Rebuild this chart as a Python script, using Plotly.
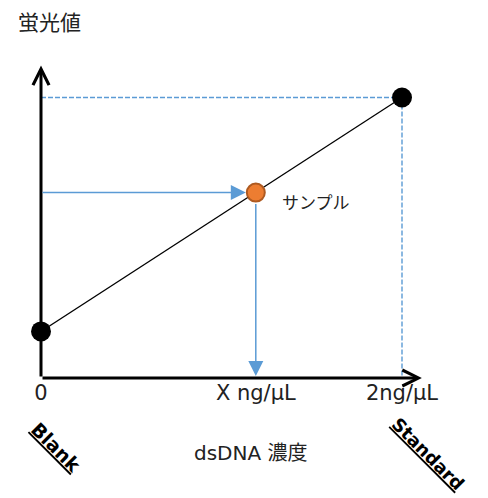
import plotly.graph_objects as go

# ---- data ----
conc_labels = ["0", "X ng/μL", "2ng/μL"]
conc_values = [0.0, 1.19, 2.0]          # ng/μL : blank, sample, standard
fluor_values = [0.166, 0.661, 1.0]      # relative fluorescence
point_names = ["Blank", "サンプル", "Standard"]

x_axis_end = 2.11
y_axis_end = 1.114

FONT = "DejaVu Sans, Noto Sans CJK JP, sans-serif"
BLUE = "#5B9BD5"
ORANGE = "#ED7D31"
ORANGE_EDGE = "#AE5A21"

OFF = 8                      # page body offset
W, H = 488 - OFF, 498 - OFF
L, R, T, B = 41 - OFF, 0, 0, 120
PLOT_W, PLOT_H = W - L - R, H - T - B


def px(xp):
    return (xp - OFF - L) / PLOT_W


def py(yp):
    return (H - B - (yp - OFF)) / PLOT_H


fig = go.Figure()

# calibration line blank -> standard
fig.add_trace(go.Scatter(
    x=[conc_values[0], conc_values[2]], y=[fluor_values[0], fluor_values[2]],
    mode="lines", line=dict(color="black", width=1.3),
    hoverinfo="skip", showlegend=False, cliponaxis=False))

# blank & standard points
fig.add_trace(go.Scatter(
    x=[conc_values[0], conc_values[2]], y=[fluor_values[0], fluor_values[2]],
    mode="markers", marker=dict(color="black", size=20),
    showlegend=False, cliponaxis=False))

shapes = [
    dict(type="line", xref="x", yref="y", x0=0, y0=fluor_values[2],
         x1=conc_values[2], y1=fluor_values[2], layer="below",
         line=dict(color=BLUE, width=1.4, dash="5px,2px")),
    dict(type="line", xref="x", yref="y", x0=conc_values[2], y0=fluor_values[2],
         x1=conc_values[2], y1=0, layer="below",
         line=dict(color=BLUE, width=1.4, dash="5px,2px")),
]


def label(x, y, text, size, angle=0, xanchor="center", color="#222"):
    return dict(x=px(x), y=py(y), xref="paper", yref="paper", text=text,
                showarrow=False, xanchor=xanchor, yanchor="middle",
                textangle=angle, font=dict(size=size, color=color))


annotations = [
    # axes arrows
    dict(x=0, y=y_axis_end, ax=0, ay=0, xref="x", yref="y", axref="x", ayref="y",
         text="", showarrow=True, arrowhead=5, arrowsize=1.05, arrowwidth=3,
         arrowcolor="black"),
    dict(x=x_axis_end, y=0, ax=0, ay=0, xref="x", yref="y", axref="x", ayref="y",
         text="", showarrow=True, arrowhead=5, arrowsize=1.05, arrowwidth=3,
         arrowcolor="black"),
    # sample read-off arrows
    dict(x=conc_values[1], y=fluor_values[1], ax=0, ay=fluor_values[1],
         xref="x", yref="y", axref="x", ayref="y", text="", showarrow=True,
         arrowhead=2, arrowsize=2, arrowwidth=1.5, arrowcolor=BLUE, standoff=10),
    dict(x=conc_values[1], y=0, ax=conc_values[1], ay=fluor_values[1],
         xref="x", yref="y", axref="x", ayref="y", text="", showarrow=True,
         arrowhead=2, arrowsize=2, arrowwidth=1.5, arrowcolor=BLUE,
         standoff=2, startstandoff=10),
    # texts
    label(49, 23, "蛍光値", 21),
    label(280, 203, point_names[1], 17, xanchor="left"),
    label(251, 453, "dsDNA 濃度", 20),
    label(56, 447, "<b><u>" + point_names[0] + "</u></b>", 19, angle=45, color="black"),
    label(428, 453, "<b><u>" + point_names[2] + "</u></b>", 18, angle=45, color="black"),
]

# sample point (on top)
fig.add_trace(go.Scatter(
    x=[conc_values[1]], y=[fluor_values[1]], mode="markers",
    marker=dict(color=ORANGE, size=18, line=dict(color=ORANGE_EDGE, width=2)),
    showlegend=False, cliponaxis=False))

fig.update_layout(
    width=W, height=H, margin=dict(l=L, r=R, t=T, b=B),
    paper_bgcolor="white", plot_bgcolor="white",
    font=dict(family=FONT, color="#222"),
    shapes=shapes, annotations=annotations,
    xaxis=dict(range=[0, PLOT_W / 180.5], showgrid=False, zeroline=False,
               showline=False, tickvals=conc_values, ticktext=conc_labels,
               ticks="", tickfont=dict(size=21, family=FONT, color="#222"),
               fixedrange=True),
    yaxis=dict(range=[0, PLOT_H / 280.5], visible=False, fixedrange=True),
)

fig.write_html("out.html")
